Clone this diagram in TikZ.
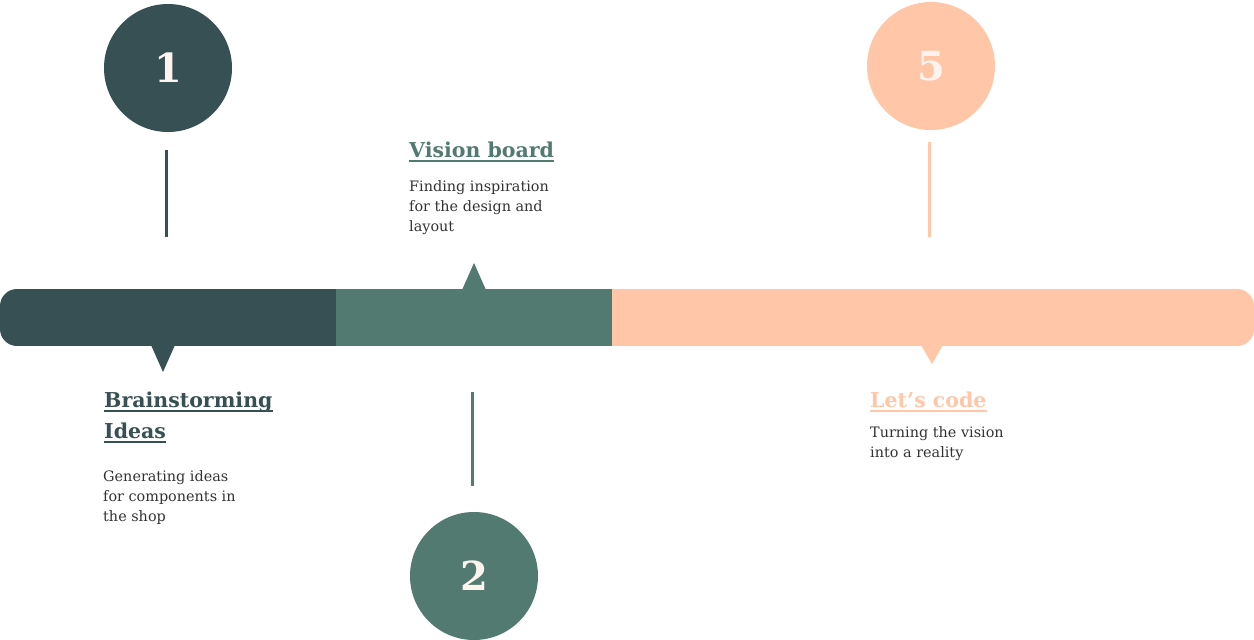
\documentclass[tikz,border=0pt]{standalone}
\usepackage{fontspec}
\setmainfont{DejaVu Serif}
\definecolor{slate}{HTML}{375053}
\definecolor{sage}{HTML}{527A70}
\definecolor{peach}{HTML}{FFC6A8}
\definecolor{ink}{HTML}{333333}
\definecolor{numtxt}{HTML}{FFF3F0}
\begin{document}
\begin{tikzpicture}[x=1pt,y=-1pt,
  stepnum/.style={circle,minimum size=128pt,inner sep=0pt,text=numtxt,
    font=\fontsize{40}{40}\selectfont\bfseries},
  heading/.style={anchor=base west,inner sep=0pt,
    font=\fontsize{20.5}{20.5}\selectfont\bfseries},
  body/.style={anchor=base west,inner sep=0pt,text=ink,
    font=\fontsize{14.4}{14.4}\selectfont},
  stem/.style={line width=3pt},
  uline/.style={line width=1.8pt}]
\useasboundingbox (0,0) rectangle (1254,640);

% timeline bar in three parts
\begin{scope}
  \clip[rounded corners=17pt] (0,289) rectangle (1254,346);
  \fill[slate] (0,289) rectangle (336,346);
  \fill[sage] (336,289) rectangle (612,346);
  \fill[peach] (612,289) rectangle (1254,346);
\end{scope}
% pointers on the bar
\fill[slate] (151,345) -- (175,345) -- (163,372) -- cycle;
\fill[sage] (462,290) -- (486,290) -- (474,263) -- cycle;
\fill[peach] (921,345) -- (943,345) -- (932,364) -- cycle;

% numbered circles
\node[stepnum,fill=slate] (n1) at (168,68) {1};
\node[stepnum,fill=sage] (n2) at (474,576) {2};
\node[stepnum,fill=peach] (n5) at (931,66) {5};

% stems
\coordinate (s1a) at (166,150); \coordinate (s1b) at (166,237);
\coordinate (s2a) at (472,392); \coordinate (s2b) at (472,486);
\coordinate (s5a) at (929,142); \coordinate (s5b) at (929,237);
\draw[stem,slate] (s1a) -- (s1b);
\draw[stem,sage] (s2a) -- (s2b);
\draw[stem,peach] (s5a) -- (s5b);

% step 1 text
\node[heading,text=slate] (h1a) at (104,407) {Brainstorming};
\node[heading,text=slate] (h1b) at (104,438) {Ideas};
\draw[uline,slate] ([yshift=-4pt]h1a.base west) -- ([yshift=-4pt]h1a.base east);
\draw[uline,slate] ([yshift=-4pt]h1b.base west) -- ([yshift=-4pt]h1b.base east);
\node[body] (b1a) at (103,481) {Generating ideas};
\node[body] (b1b) at (103,501) {for components in};
\node[body] (b1c) at (103,521) {the shop};

% step 2 text
\node[heading,text=sage] (h2) at (409,157) {Vision board};
\draw[uline,sage] ([yshift=-4pt]h2.base west) -- ([yshift=-4pt]h2.base east);
\node[body] (b2a) at (409,191) {Finding inspiration};
\node[body] (b2b) at (409,211) {for the design and};
\node[body] (b2c) at (409,231) {layout};

% step 5 text
\node[heading,text=peach] (h5) at (870,407) {Let’s code};
\draw[uline,peach] ([yshift=-4pt]h5.base west) -- ([yshift=-4pt]h5.base east);
\node[body] (b5a) at (870,437) {Turning the vision};
\node[body] (b5b) at (870,457) {into a reality};
\end{tikzpicture}
\end{document}
